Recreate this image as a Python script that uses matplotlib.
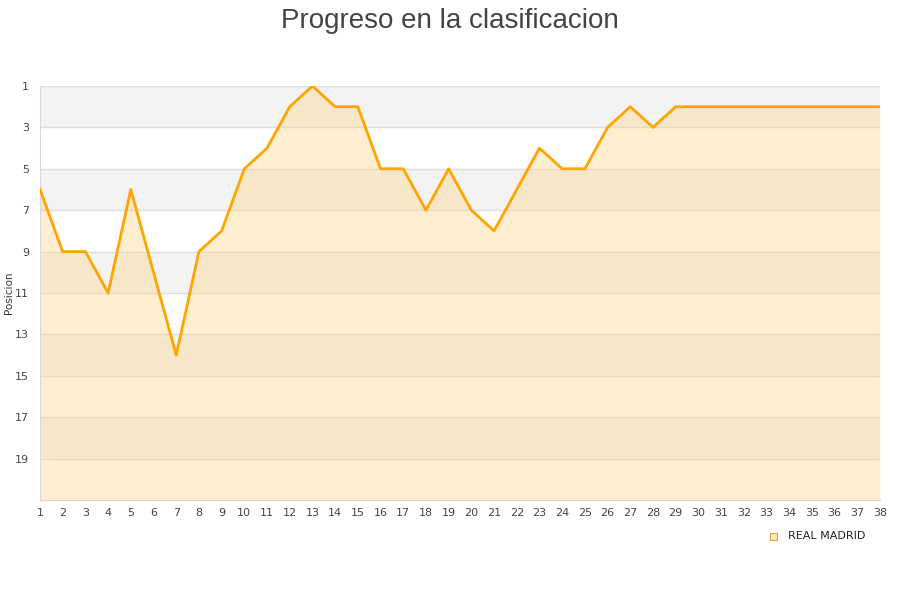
import matplotlib
matplotlib.use('Agg')
from matplotlib import pyplot as plt

jornadas = list(range(1, 39))
posiciones = [6, 9, 9, 11, 6, 10, 14, 9, 8, 5, 4, 2, 1, 2, 2, 5, 5, 7, 5, 7,
              8, 6, 4, 5, 5, 3, 2, 3, 2, 2, 2, 2, 2, 2, 2, 2, 2, 2]
y_ticks = list(range(1, 20, 2))
equipo = 'REAL MADRID'

fig = plt.figure(figsize=(9, 6), dpi=100)
ax = fig.add_axes([40 / 900, 100 / 600, 840 / 900, 414 / 600])

# bandas alternas
for i, y0 in enumerate(range(1, 21, 2)):
    if i % 2 == 0:
        ax.axhspan(y0, y0 + 2, color='#f3f3f3', zorder=0, lw=0)
for y in y_ticks:
    ax.axhline(y, color='#dedede', lw=1, zorder=1)

ax.fill_between(jornadas, posiciones, 21, color='#ffd58a', alpha=0.4, lw=0, zorder=2)
ax.plot(jornadas, posiciones, color='#ffa500', lw=2, zorder=3)

ax.set_xlim(1, 38)
ax.set_ylim(21, 1)
ax.set_xticks(jornadas)
ax.set_yticks(y_ticks)
ax.tick_params(length=0, labelsize=8, colors='#444444', pad=6)
ax.tick_params(axis='y', pad=8)
for s in ['top', 'right']:
    ax.spines[s].set_visible(False)
for s in ['left', 'bottom']:
    ax.spines[s].set_color('#d8d8d8')

fig.text(9 / 900, 1 - 293 / 600, 'Posicion', rotation=90, ha='center', va='center',
         fontsize=7.5, color='#333333')
fig.text(0.5, 0.986, 'Progreso en la clasificacion', ha='center', va='top',
         fontsize=20, color='#444444', family='Liberation Sans')

fig.patches.append(plt.Rectangle((770 / 900, 1 - 540 / 600), 7 / 900, 7 / 600,
                                 transform=fig.transFigure, facecolor='#ffe6b8',
                                 edgecolor='#d9a444', lw=0.8))
fig.text(788 / 900, 1 - 536 / 600, equipo, ha='left', va='center', fontsize=8,
         color='#222222')

fig.savefig('out.png')
